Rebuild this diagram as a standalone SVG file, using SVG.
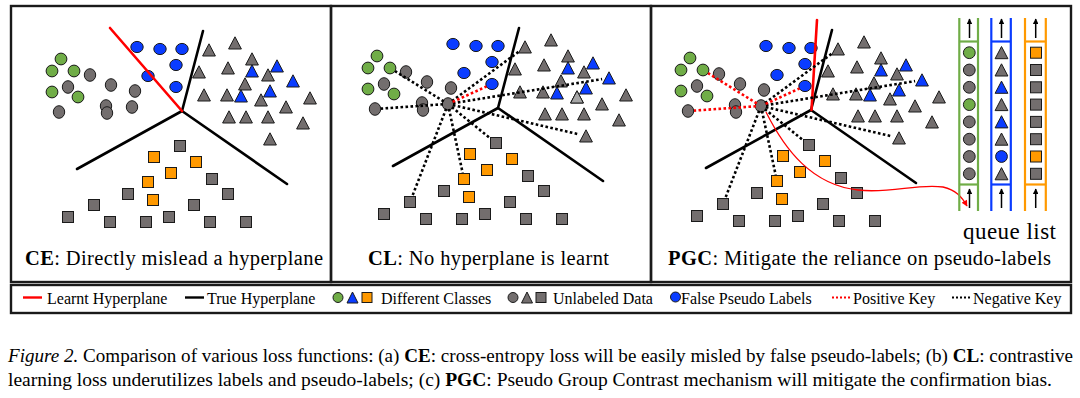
<svg xmlns="http://www.w3.org/2000/svg" xmlns:xlink="http://www.w3.org/1999/xlink" width="1080" height="398" viewBox="0 0 1080 398">
<style>
.gn{fill:#70ad47}.gr{fill:#736e6e}.bl{fill:#0a3cff}.or{fill:#ff9900}.lg{fill:#a6a6a6}
.fr{fill:none;stroke:#1a1a1a;stroke-width:2.4}
.hp{fill:none;stroke:#000;stroke-width:2.6;stroke-linecap:round;stroke-linejoin:round}
.lh{fill:none;stroke:#ff0000;stroke-width:2.6;stroke-linecap:round}
.nk{fill:none;stroke:#000;stroke-width:2.6;stroke-dasharray:2.6 2.4}
.pk{fill:none;stroke:#ff0000;stroke-width:2.6;stroke-dasharray:2.6 2.4}
.q{fill:none;stroke-width:2.2}
.ar{fill:none;stroke:#000;stroke-width:1.5}
.t{font-family:"Liberation Serif","Times New Roman",serif;fill:#000}
.b{font-weight:bold}
</style>
<defs>
<marker id="ahb" viewBox="0 0 10 10" refX="9" refY="5" markerWidth="7" markerHeight="5.5" orient="auto" markerUnits="userSpaceOnUse"><path d="M0,0 L10,5 L0,10 Z" fill="#000"/></marker>
<marker id="ahr" viewBox="0 0 10 10" refX="9" refY="5" markerWidth="8" markerHeight="6" orient="auto" markerUnits="userSpaceOnUse"><path d="M0,0 L10,5 L0,10 Z" fill="#ff0000"/></marker>
<circle id="c" r="5.9" stroke="#1a1a1a" stroke-width="1"/>
<ellipse id="cg" rx="5.7" ry="6.3" stroke="#1a1a1a" stroke-width="1"/>
<ellipse id="cb" rx="6.2" ry="5.6" stroke="#1a1a1a" stroke-width="1"/>
<path id="t" d="M0,-6.2 L6.4,6 L-6.4,6 Z" stroke="#1a1a1a" stroke-width="1" stroke-linejoin="round"/>
<rect id="s" x="-5.5" y="-5.5" width="11" height="11" stroke="#1a1a1a" stroke-width="1"/>
<g id="scatter">
<use href="#c" x="61" y="59" class="gn"/><use href="#c" x="52" y="71" class="gn"/><use href="#c" x="74" y="71" class="gn"/><use href="#c" x="52" y="92" class="gn"/><use href="#c" x="78" y="97" class="gn"/>
<use href="#cg" x="90" y="75" class="gr"/><use href="#cg" x="68" y="87" class="gr"/><use href="#cg" x="59" y="112" class="gr"/><use href="#cg" x="111" y="85" class="gr"/><use href="#cg" x="106" y="106" class="gr"/><use href="#cg" x="107" y="113" class="gr"/><use href="#cg" x="135" y="91" class="gr"/><use href="#cg" x="132" y="107" class="gr"/>
<use href="#cb" x="137" y="47" class="bl"/><use href="#cb" x="160" y="49" class="bl"/><use href="#cb" x="182" y="49" class="bl"/><use href="#cb" x="176" y="65" class="bl"/><use href="#cb" x="148" y="76" class="bl"/><use href="#cb" x="176" y="87" class="bl"/>
<use href="#t" x="209" y="50" class="gr"/><use href="#t" x="235" y="43" class="gr"/><use href="#t" x="252" y="59" class="gr"/><use href="#t" x="228" y="68" class="gr"/><use href="#t" x="199" y="72" class="gr"/><use href="#t" x="268" y="75" class="gr"/><use href="#t" x="245" y="84" class="gr"/><use href="#t" x="204" y="95" class="gr"/><use href="#t" x="227" y="95" class="gr"/><use href="#t" x="261" y="100" class="gr"/><use href="#t" x="310" y="98" class="gr"/><use href="#t" x="286" y="107" class="gr"/><use href="#t" x="229" y="117" class="gr"/><use href="#t" x="246" y="117" class="gr"/><use href="#t" x="268" y="117" class="gr"/><use href="#t" x="303" y="123" class="gr"/><use href="#t" x="270" y="139" class="gr"/>
<use href="#t" x="252" y="71" class="bl"/><use href="#t" x="277" y="66" class="bl"/><use href="#t" x="293" y="81" class="bl"/><use href="#t" x="270" y="91" class="bl"/><use href="#t" x="241" y="96" class="bl"/>
<use href="#s" x="180" y="146" class="gr"/><use href="#s" x="212" y="179" class="gr"/><use href="#s" x="128" y="194" class="gr"/><use href="#s" x="228" y="194" class="gr"/><use href="#s" x="94" y="205" class="gr"/><use href="#s" x="194" y="205" class="gr"/><use href="#s" x="68" y="217" class="gr"/><use href="#s" x="110" y="222" class="gr"/><use href="#s" x="146" y="222" class="gr"/><use href="#s" x="169" y="217" class="gr"/><use href="#s" x="210" y="222" class="gr"/><use href="#s" x="246" y="222" class="gr"/>
<use href="#s" x="154" y="157" class="or"/><use href="#s" x="196" y="162" class="or"/><use href="#s" x="171" y="173" class="or"/><use href="#s" x="148" y="182" class="or"/><use href="#s" x="153" y="200" class="or"/>
</g>
</defs>
<rect width="1080" height="398" fill="#fff"/>

<g id="frames">
<rect class="fr" x="11" y="6" width="320" height="276"/>
<rect class="fr" x="331" y="6" width="320" height="276"/>
<rect class="fr" x="651" y="6" width="420" height="276"/>
</g>

<g id="panel-ce">
<use href="#scatter"/>
<polyline class="hp" points="203,31 182,111 77,169"/>
<line class="hp" x1="182" y1="111" x2="287" y2="184"/>
<line class="lh" x1="110" y1="28" x2="182" y2="111"/>
<text class="t" x="25" y="265" font-size="20.5" textLength="298" lengthAdjust="spacing"><tspan class="b">CE</tspan>: Directly mislead a hyperplane</text>
</g>

<g id="panel-cl">
<g transform="translate(316,-3)">
<use href="#scatter"/>
<use href="#t" x="261" y="100" class="lg"/>
<polyline class="hp" points="203,31 182,111 77,169"/>
<line class="hp" x1="182" y1="111" x2="287" y2="184"/>
<g id="cl-connectors">
<line class="nk" x1="127.8" y1="104.4" x2="79.1" y2="74.2"/>
<line class="nk" x1="127" y1="107.3" x2="65" y2="111.6"/>
<line class="nk" x1="130.2" y1="111.7" x2="96.2" y2="199.4"/>
<line class="nk" x1="133" y1="111.9" x2="146.7" y2="176.1"/>
<line class="nk" x1="135.9" y1="110.2" x2="174.5" y2="141.5"/>
<line class="nk" x1="136.9" y1="108.1" x2="263.2" y2="137.4"/>
<line class="nk" x1="136.9" y1="106.2" x2="286.1" y2="82.1"/>
<line class="nk" x1="136" y1="104" x2="203.4" y2="54.2"/>
<line class="pk" x1="136.6" y1="104.9" x2="170.5" y2="89.5"/>
</g>
</g>
<text class="t" x="368" y="265" font-size="20.5" textLength="241" lengthAdjust="spacing"><tspan class="b">CL</tspan>: No hyperplane is learnt</text>
</g>

<g id="panel-pgc">
<g transform="translate(629,-1)">
<use href="#scatter"/>
<polyline class="hp" points="203,31 182,111 77,169"/>
<line class="hp" x1="182" y1="111" x2="287" y2="184"/>
<line class="lh" x1="188" y1="21" x2="182.5" y2="111"/>
<g id="pgc-connectors">
<line class="pk" x1="127.8" y1="104.4" x2="79.1" y2="74.2"/>
<line class="pk" x1="127" y1="107.3" x2="65" y2="111.6"/>
<line class="nk" x1="130.2" y1="111.7" x2="96.2" y2="199.4"/>
<line class="nk" x1="133" y1="111.9" x2="146.7" y2="176.1"/>
<line class="nk" x1="135.9" y1="110.2" x2="174.5" y2="141.5"/>
<line class="nk" x1="136.9" y1="108.1" x2="263.2" y2="137.4"/>
<line class="nk" x1="136.9" y1="106.2" x2="286.1" y2="82.1"/>
<line class="nk" x1="136" y1="104" x2="203.4" y2="54.2"/>
<line class="pk" x1="136.6" y1="104.9" x2="170.5" y2="89.5"/>
</g>
</g>
<path d="M766,112 C785,150 812,185 858,190 C890,194 918,183 943,187 C956,190 962,197 967,206" fill="none" stroke="#ff0000" stroke-width="1.3" marker-end="url(#ahr)"/>
<text class="t" x="668" y="265" font-size="20.5" textLength="383" lengthAdjust="spacing"><tspan class="b">PGC</tspan>: Mitigate the reliance on pseudo-labels</text>
</g>

<g id="queue-list">
<g stroke="#70ad47" class="q"><line x1="959.3" y1="18" x2="959.3" y2="211"/><line x1="978" y1="18" x2="978" y2="211"/><line x1="959.3" y1="41.5" x2="978" y2="41.5"/><line x1="959.3" y1="184.5" x2="978" y2="184.5"/></g>
<g stroke="#0a3cff" class="q"><line x1="991.3" y1="18" x2="991.3" y2="211"/><line x1="1010.8" y1="18" x2="1010.8" y2="211"/><line x1="991.3" y1="41.5" x2="1010.8" y2="41.5"/><line x1="991.3" y1="184.5" x2="1010.8" y2="184.5"/></g>
<g stroke="#ff9900" class="q"><line x1="1025" y1="18" x2="1025" y2="211"/><line x1="1045.8" y1="18" x2="1045.8" y2="211"/><line x1="1025" y1="41.5" x2="1045.8" y2="41.5"/><line x1="1025" y1="184.5" x2="1045.8" y2="184.5"/></g>
<g class="ar" marker-end="url(#ahb)">
<line x1="969.5" y1="38" x2="969.5" y2="19"/><line x1="1001.5" y1="38" x2="1001.5" y2="19"/><line x1="1035.7" y1="38" x2="1035.7" y2="19"/>
<line x1="969.5" y1="208" x2="969.5" y2="189"/><line x1="1001.5" y1="208" x2="1001.5" y2="189"/><line x1="1035.7" y1="208" x2="1035.7" y2="189"/>
</g>
<g>
<use href="#c" x="969.3" y="52.7" class="gn"/><use href="#c" x="969.3" y="70" class="gr"/><use href="#c" x="969.3" y="87.3" class="gr"/><use href="#c" x="969.3" y="104.6" class="gn"/><use href="#c" x="969.3" y="121.9" class="gr"/><use href="#c" x="969.3" y="139.2" class="gr"/><use href="#c" x="969.3" y="156.5" class="gr"/><use href="#c" x="969.3" y="173.8" class="gr"/>
</g>
<g>
<use href="#t" x="1001.5" y="52.7" class="gr"/><use href="#t" x="1001.5" y="70" class="gr"/><use href="#t" x="1001.5" y="87.3" class="bl"/><use href="#t" x="1001.5" y="104.6" class="gr"/><use href="#t" x="1001.5" y="121.9" class="bl"/><use href="#t" x="1001.5" y="139.2" class="gr"/><use href="#c" x="1001.5" y="156.5" class="bl"/><use href="#t" x="1001.5" y="173.8" class="gr"/>
</g>
<g>
<use href="#s" x="1036" y="52.7" class="or"/><use href="#s" x="1036" y="70" class="gr"/><use href="#s" x="1036" y="87.3" class="gr"/><use href="#s" x="1036" y="104.6" class="gr"/><use href="#s" x="1036" y="121.9" class="gr"/><use href="#s" x="1036" y="139.2" class="gr"/><use href="#s" x="1036" y="156.5" class="or"/><use href="#s" x="1036" y="173.8" class="gr"/>
</g>
<text class="t" x="963" y="239" font-size="23" textLength="93" lengthAdjust="spacing">queue list</text>
</g>

<g id="legend">
<rect class="fr" x="11" y="285" width="1060" height="28"/>
<line x1="23" y1="297.5" x2="42" y2="297.5" stroke="#ff0000" stroke-width="2.4"/>
<text class="t" x="47" y="304" font-size="16">Learnt Hyperplane</text>
<line x1="185" y1="297.5" x2="204" y2="297.5" stroke="#000" stroke-width="2.4"/>
<text class="t" x="207" y="304" font-size="16">True Hyperplane</text>
<circle cx="338" cy="297.5" r="5" class="gn" stroke="#1a1a1a"/>
<path d="M352.5,292 L358,303 L347,303 Z" class="bl" stroke="#1a1a1a" stroke-linejoin="round"/>
<rect x="362" y="292.5" width="10" height="10" class="or" stroke="#1a1a1a"/>
<text class="t" x="381" y="304" font-size="16">Different Classes</text>
<circle cx="513" cy="297.5" r="5" class="gr" stroke="#1a1a1a"/>
<path d="M527,292 L532.5,303 L521.5,303 Z" class="gr" stroke="#1a1a1a" stroke-linejoin="round"/>
<rect x="536" y="292.5" width="10" height="10" class="gr" stroke="#1a1a1a"/>
<text class="t" x="553" y="304" font-size="16">Unlabeled Data</text>
<circle cx="675.5" cy="297" r="5" class="bl" stroke="#1a1a1a"/>
<text class="t" x="681" y="304" font-size="16">False Pseudo Labels</text>
<line x1="832" y1="297.5" x2="851" y2="297.5" stroke="#ff0000" stroke-width="2" stroke-dasharray="2 2"/>
<text class="t" x="853" y="304" font-size="16">Positive Key</text>
<line x1="952" y1="297.5" x2="971" y2="297.5" stroke="#000" stroke-width="2" stroke-dasharray="2 2"/>
<text class="t" x="973" y="304" font-size="16">Negative Key</text>
</g>

<g id="caption">
<text class="t" x="8" y="362" font-size="18" textLength="1065" lengthAdjust="spacingAndGlyphs"><tspan font-style="italic">Figure 2.</tspan> Comparison of various loss functions: (a) <tspan class="b">CE</tspan>: cross-entropy loss will be easily misled by false pseudo-labels; (b) <tspan class="b">CL</tspan>: contrastive</text>
<text class="t" x="8" y="386" font-size="18" textLength="1044" lengthAdjust="spacingAndGlyphs">learning loss underutilizes labels and pseudo-labels; (c) <tspan class="b">PGC</tspan>: Pseudo Group Contrast mechanism will mitigate the confirmation bias.</text>
</g>
</svg>
